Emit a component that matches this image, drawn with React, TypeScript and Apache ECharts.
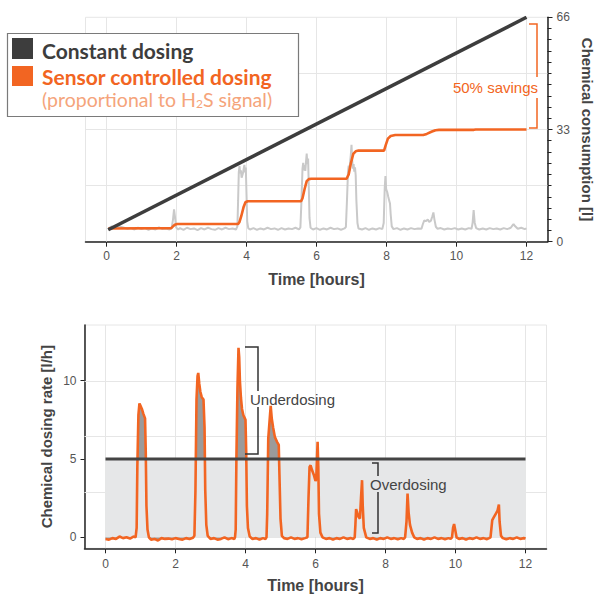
import React, { useEffect, useRef } from "react";
import * as echarts from "echarts";

// ---------- data ----------
const hourTicks = [0, 2, 4, 6, 8, 10, 12];
const rateTicks = [0, 5, 10];
const consumptionGridLines = [16.5, 33, 49.5];
const rateGridLines = [2.865, 6.43, 9.995];

const constantConsumption = [
  [0.05, 3.5],
  [12, 66],
];

const sensorConsumption = [
  [0.05, 3.9], [1.85, 4.0], [1.9, 4.5], [1.95, 5.0], [2.02, 5.2],
  [3.76, 5.2], [3.8, 5.8], [3.85, 7.5], [3.92, 10.3], [3.97, 11.6], [4.03, 11.9],
  [5.56, 11.9], [5.6, 12.8], [5.66, 15.5], [5.72, 17.8], [5.78, 18.4], [5.85, 18.5],
  [6.86, 18.5], [6.92, 19.8], [6.98, 23.0], [7.05, 25.8], [7.12, 26.6], [7.2, 26.8],
  [7.93, 26.8], [7.98, 28.5], [8.04, 30.3], [8.12, 31.1], [8.25, 31.4],
  [9.05, 31.4], [9.15, 31.7], [9.3, 32.4], [9.4, 32.8], [9.5, 32.9],
  [10.5, 32.9], [10.55, 33.0], [12, 33.0],
];

const h2sSignal = [
  [0.05, 3.6], [0.1, 4.2], [0.15, 4.5], [0.2, 4.3], [0.3, 4.7], [0.4, 4.4], [0.5, 4.1],
  [0.6, 3.8], [0.7, 4.0], [0.8, 3.6], [0.9, 4.1], [1.0, 3.7], [1.1, 4.0], [1.2, 3.5],
  [1.3, 3.9], [1.4, 3.6], [1.5, 4.2], [1.6, 3.7], [1.7, 3.9], [1.8, 3.6], [1.86, 4.0],
  [1.9, 6.5], [1.93, 9.5], [1.96, 7.0], [1.99, 4.2], [2.05, 3.6], [2.1, 4.0], [2.2, 3.5],
  [2.3, 4.1], [2.4, 3.7], [2.5, 3.9], [2.6, 3.4], [2.7, 4.0], [2.8, 3.6], [2.9, 4.1],
  [3.0, 3.7], [3.1, 3.5], [3.2, 4.0], [3.3, 3.6], [3.4, 4.1], [3.5, 3.7], [3.6, 3.9],
  [3.7, 3.6], [3.74, 4.5], [3.76, 12], [3.78, 20.5], [3.8, 22.2], [3.82, 20.1],
  [3.84, 21.0], [3.86, 18.8], [3.88, 19.5], [3.9, 20.2], [3.92, 21.5], [3.94, 22.6],
  [3.96, 20.4], [3.98, 21.8], [4.0, 14], [4.02, 6], [4.05, 4.0], [4.1, 3.6], [4.2, 4.0],
  [4.3, 3.5], [4.4, 3.9], [4.5, 3.6], [4.6, 4.1], [4.7, 3.7], [4.8, 3.9], [4.9, 3.5],
  [5.0, 4.0], [5.1, 3.6], [5.2, 3.9], [5.3, 3.7], [5.4, 4.1], [5.5, 3.6],
  [5.54, 4.2], [5.57, 12], [5.6, 21.5], [5.62, 23.2], [5.64, 21.0], [5.66, 22.5],
  [5.68, 20.8], [5.7, 23.5], [5.72, 25.9], [5.74, 22.8], [5.76, 24.5], [5.78, 16],
  [5.8, 7], [5.83, 4.1], [5.9, 3.6], [6.0, 4.0], [6.1, 3.5], [6.2, 3.9], [6.3, 3.6],
  [6.4, 4.1], [6.5, 3.7], [6.6, 3.9], [6.7, 3.5], [6.8, 3.9],
  [6.84, 4.3], [6.87, 12], [6.9, 20.5], [6.92, 22.4], [6.94, 20.8], [6.96, 23.5],
  [6.98, 25.5], [7.0, 28.5], [7.02, 24.0], [7.04, 21.5], [7.06, 22.8], [7.08, 20.6],
  [7.1, 21.9], [7.12, 19.5], [7.14, 12], [7.17, 5.5], [7.2, 3.9],
  [7.3, 3.6], [7.4, 4.0], [7.5, 3.5], [7.6, 3.9], [7.7, 3.6], [7.8, 4.0], [7.88, 3.7],
  [7.92, 5.5], [7.95, 16], [7.97, 19.3], [7.99, 15.5], [8.02, 14.6], [8.05, 13.2],
  [8.08, 12.0], [8.1, 11.2], [8.12, 8], [8.15, 4.5], [8.2, 3.7],
  [8.3, 4.0], [8.4, 3.5], [8.5, 3.9], [8.6, 3.6], [8.7, 4.0], [8.8, 3.7], [8.9, 3.9], [9.0, 3.8],
  [9.04, 5.2], [9.08, 6.3], [9.12, 6.0], [9.18, 6.5], [9.22, 5.8], [9.27, 6.2],
  [9.31, 7.5], [9.34, 8.6], [9.37, 6.5], [9.41, 4.4], [9.46, 3.8],
  [9.55, 4.0], [9.65, 3.6], [9.75, 3.9], [9.85, 3.7], [9.95, 4.0], [10.05, 3.6],
  [10.15, 3.9], [10.25, 3.6], [10.35, 4.0], [10.43, 3.8],
  [10.46, 5.5], [10.49, 9.3], [10.52, 5.6], [10.56, 4.0],
  [10.65, 3.6], [10.75, 3.9], [10.85, 3.6], [10.95, 4.0], [11.05, 3.7], [11.15, 3.9],
  [11.25, 3.6], [11.35, 4.0], [11.45, 3.7], [11.55, 4.1], [11.6, 4.8], [11.63, 5.2],
  [11.67, 4.6], [11.75, 3.8], [11.85, 4.1], [11.95, 3.7], [12.0, 3.9],
];

const constantRate = [
  [0, 5],
  [12, 5],
];

const sensorRate = [
  [0, -0.1], [0.1, -0.15], [0.2, -0.05], [0.3, -0.1], [0.4, 0.05], [0.5, -0.05],
  [0.6, 0.0], [0.7, -0.08], [0.8, 0.05], [0.86, 0.0],
  [0.89, 0.6], [0.91, 4.5], [0.94, 7.8], [0.97, 8.55], [1.0, 8.4], [1.04, 8.2],
  [1.08, 7.9], [1.13, 7.6], [1.15, 5.5], [1.17, 2.0], [1.2, 0.5], [1.24, 0.0],
  [1.3, -0.15], [1.4, -0.1], [1.5, -0.2], [1.6, -0.05], [1.7, -0.1], [1.8, -0.08],
  [1.9, -0.12], [2.0, -0.05], [2.1, -0.1], [2.2, -0.15], [2.3, -0.05], [2.4, -0.1],
  [2.5, -0.02],
  [2.54, 0.1], [2.57, 3.0], [2.6, 8.8], [2.63, 10.3], [2.65, 10.5], [2.68, 9.8],
  [2.71, 9.3], [2.75, 8.95], [2.8, 8.8], [2.83, 7.0], [2.85, 3.0], [2.88, 0.8], [2.92, 0.1],
  [3.0, -0.1], [3.1, -0.05], [3.2, -0.15], [3.3, -0.1], [3.4, 0.0], [3.5, -0.12],
  [3.6, -0.05], [3.68, -0.1],
  [3.7, 0.0], [3.72, 0.5], [3.74, 5.0], [3.77, 9.5], [3.8, 12.1], [3.82, 11.5],
  [3.84, 10.0], [3.87, 8.9], [3.9, 8.2], [3.94, 7.8], [4.0, 7.5], [4.02, 5.5],
  [4.04, 2.0], [4.07, 0.6], [4.12, 0.05],
  [4.2, -0.1], [4.3, -0.05], [4.4, -0.15], [4.5, -0.05], [4.57, -0.1],
  [4.6, 0.0], [4.62, 1.5], [4.65, 6.3], [4.68, 7.2], [4.72, 8.4], [4.75, 7.6],
  [4.79, 7.0], [4.84, 6.4], [4.9, 6.1], [4.95, 5.9], [4.97, 4.0], [5.0, 1.2], [5.04, 0.1],
  [5.1, -0.05], [5.2, -0.1], [5.3, 0.0], [5.4, -0.1], [5.5, -0.05], [5.6, -0.12], [5.7, -0.05],
  [5.77, 0.0], [5.8, 2.5], [5.83, 4.5], [5.86, 4.6], [5.9, 4.3], [5.95, 4.0],
  [6.0, 3.6], [6.02, 3.7], [6.06, 6.1], [6.08, 4.5], [6.1, 1.5], [6.14, 0.3], [6.2, 0.0],
  [6.3, -0.1], [6.4, -0.05], [6.5, -0.15], [6.6, -0.05], [6.7, -0.1], [6.8, 0.0],
  [6.9, -0.1], [7.0, -0.05], [7.08, -0.1],
  [7.12, 0.0], [7.14, 0.8], [7.16, 1.8], [7.19, 1.6], [7.23, 1.3], [7.27, 1.2],
  [7.3, 2.5], [7.33, 3.65], [7.35, 2.0], [7.38, 0.6], [7.45, 0.0],
  [7.55, -0.1], [7.65, -0.05], [7.75, -0.15], [7.85, -0.05], [7.95, -0.1], [8.05, 0.0],
  [8.15, -0.1], [8.25, -0.05], [8.35, -0.12], [8.45, -0.05], [8.52, -0.1],
  [8.56, 0.0], [8.6, 1.0], [8.63, 2.8], [8.66, 1.6], [8.7, 0.8], [8.76, 0.3], [8.82, 0.0],
  [8.9, -0.1], [9.0, -0.05], [9.1, -0.15], [9.2, -0.05], [9.3, -0.1], [9.4, 0.0],
  [9.5, -0.1], [9.6, -0.05], [9.7, -0.12], [9.8, -0.05], [9.86, -0.1],
  [9.9, 0.0], [9.93, 0.6], [9.96, 0.85], [9.99, 0.5], [10.03, 0.0],
  [10.1, -0.1], [10.2, -0.05], [10.3, -0.15], [10.4, -0.05], [10.5, -0.1], [10.6, 0.0],
  [10.7, -0.1], [10.8, -0.05], [10.9, -0.12], [10.96, -0.05],
  [11.0, 0.0], [11.05, 1.1], [11.1, 1.3], [11.15, 1.5], [11.2, 1.7], [11.24, 2.1],
  [11.26, 1.0], [11.3, 0.1],
  [11.35, -0.05], [11.45, -0.12], [11.55, -0.05], [11.65, -0.1], [11.75, 0.0],
  [11.85, -0.1], [11.95, -0.05], [12.0, -0.08],
];

// ---------- styles ----------
const FONT = "'Liberation Sans', Arial, Helvetica, sans-serif";
const LEGEND_FONT = "Lato, 'Open Sans', sans-serif";
const ORANGE = "#f26522";
const DARK = "#3d3d3d";
const GRID_LINE = "#e6e6e6";
const AXIS = "#222";

export default function App() {
  const ref = useRef<HTMLDivElement>(null);

  useEffect(() => {
    if (!ref.current) return;
    const chart = echarts.init(ref.current, undefined, { renderer: "svg" });

    const axisLabel = { color: "#555", fontSize: 12, fontFamily: FONT };
    const nameStyle = { color: "#444", fontSize: 15, fontWeight: "bold", fontFamily: FONT };
    const gridMark = (yVals: number[]) => ({
      silent: true,
      symbol: ["none", "none"],
      z: 1,
      label: { show: false },
      emphasis: { disabled: true },
      lineStyle: { color: GRID_LINE, width: 1, type: "solid" },
      data: [
        ...hourTicks.map((h) => ({ xAxis: h })),
        ...yVals.map((v) => ({ yAxis: v })),
      ],
    });

    const option: any = {
      animation: false,
      grid: [
        { left: 85.5, top: 17.3, width: 462, height: 224.4, show: true, borderColor: GRID_LINE, borderWidth: 1, containLabel: false, outerBoundsMode: "none" },
        { left: 84.5, top: 325, width: 462, height: 223.3, show: true, borderColor: GRID_LINE, borderWidth: 1, containLabel: false, outerBoundsMode: "none" },
      ],
      xAxis: [0, 1].map((g) => ({
        gridIndex: g,
        type: "value",
        min: -0.6,
        max: 12.6,
        splitLine: { show: false },
        axisLine: { show: true, onZero: false, lineStyle: { color: AXIS, width: 1.5 } },
        axisTick: { show: true, customValues: hourTicks, length: 5, lineStyle: { color: AXIS } },
        axisLabel: { ...axisLabel, customValues: hourTicks, margin: g === 0 ? 8 : 10 },
        name: "Time [hours]",
        nameLocation: "middle",
        nameGap: g === 0 ? 30 : 29,
        nameMoveOverlap: false,
        nameTextStyle: { ...nameStyle, fontSize: 16 },
      })),
      yAxis: [
        {
          gridIndex: 0,
          type: "value",
          position: "right",
          min: 0,
          max: 66,
          interval: 33,
          splitLine: { show: false },
          axisLine: { show: true, onZero: false, lineStyle: { color: AXIS, width: 1.5 } },
          axisTick: { show: true, length: 5, lineStyle: { color: AXIS } },
          minorTick: { show: true, splitNumber: 10, length: 4, lineStyle: { color: AXIS } },
          minorSplitLine: { show: false },
          axisLabel: { ...axisLabel, margin: 9 },
          name: "Chemical consumption [l]",
          nameLocation: "middle",
          nameRotate: -90,
          nameGap: 32,
          nameMoveOverlap: false,
          nameTextStyle: nameStyle,
        },
        {
          gridIndex: 1,
          type: "value",
          min: -0.7,
          max: 13.56,
          splitLine: { show: false },
          axisLine: { show: true, onZero: false, lineStyle: { color: AXIS, width: 1.5 } },
          axisTick: { show: true, customValues: rateTicks, length: 4, lineStyle: { color: AXIS } },
          axisLabel: { ...axisLabel, customValues: rateTicks, margin: 8 },
          name: "Chemical dosing rate [l/h]",
          nameLocation: "middle",
          nameRotate: 90,
          nameGap: 31,
          nameMoveOverlap: false,
          nameTextStyle: nameStyle,
        },
      ],
      series: [
        {
          name: "H2S signal",
          type: "line",
          xAxisIndex: 0,
          yAxisIndex: 0,
          data: h2sSignal,
          showSymbol: false,
          symbol: "none",
          lineStyle: { color: "#c9c9c9", width: 2 },
          z: 2,
          markLine: gridMark(consumptionGridLines),
        },
        {
          name: "Sensor consumption",
          type: "line",
          xAxisIndex: 0,
          yAxisIndex: 0,
          data: sensorConsumption,
          showSymbol: false,
          symbol: "none",
          lineStyle: { color: ORANGE, width: 2.6 },
          z: 3,
        },
        {
          name: "Constant consumption",
          type: "line",
          xAxisIndex: 0,
          yAxisIndex: 0,
          data: constantConsumption,
          showSymbol: false,
          symbol: "none",
          lineStyle: { color: DARK, width: 3.5 },
          z: 4,
        },
        {
          name: "Rate area",
          type: "line",
          xAxisIndex: 1,
          yAxisIndex: 1,
          data: sensorRate,
          showSymbol: false,
          symbol: "none",
          lineStyle: { width: 0, opacity: 0 },
          areaStyle: { color: "#9b9b9b", opacity: 1, origin: 0 },
          z: 2,
          markLine: gridMark(rateGridLines),
        },
        {
          name: "Constant area",
          type: "line",
          xAxisIndex: 1,
          yAxisIndex: 1,
          data: constantRate,
          showSymbol: false,
          symbol: "none",
          lineStyle: { width: 0, opacity: 0 },
          areaStyle: { color: "#e6e7e8", opacity: 1, origin: 0 },
          z: 2,
        },
        {
          name: "Sensor rate",
          type: "line",
          xAxisIndex: 1,
          yAxisIndex: 1,
          data: sensorRate,
          showSymbol: false,
          symbol: "none",
          lineStyle: { color: ORANGE, width: 2.6 },
          z: 3,
        },
        {
          name: "Constant rate",
          type: "line",
          xAxisIndex: 1,
          yAxisIndex: 1,
          data: constantRate,
          showSymbol: false,
          symbol: "none",
          lineStyle: { color: "#444", width: 3 },
          z: 4,
        },
      ],
      graphic: [
        // legend box
        { type: "rect", z: 100, shape: { x: 7.5, y: 33.5, width: 291, height: 83 }, style: { fill: "#fff", stroke: "#7a7a7a", lineWidth: 1.2 } },
        { type: "rect", z: 101, shape: { x: 12, y: 38, width: 21, height: 21 }, style: { fill: DARK } },
        { type: "rect", z: 101, shape: { x: 12, y: 66, width: 21, height: 20 }, style: { fill: ORANGE } },
        { type: "text", z: 101, x: 42, y: 50, style: { text: "Constant dosing", fill: DARK, font: `bold 21px ${LEGEND_FONT}`, verticalAlign: "middle" } },
        { type: "text", z: 101, x: 42, y: 76, style: { text: "Sensor controlled dosing", fill: ORANGE, font: `bold 21px ${LEGEND_FONT}`, verticalAlign: "middle" } },
        {
          type: "text", z: 101, x: 42, y: 99,
          style: {
            text: "(proportional to H{sub|2}S signal)",
            fill: "#f5a47b",
            font: `19.5px ${LEGEND_FONT}`,
            verticalAlign: "middle",
            rich: { sub: { fontSize: 12, fontFamily: LEGEND_FONT, fill: "#f5a47b", verticalAlign: "bottom", padding: [8, 0, 0, 0] } },
          },
        },
        // 50% savings bracket
        { type: "polyline", z: 50, shape: { points: [[529, 24], [537, 24], [537, 77]] }, style: { stroke: ORANGE, lineWidth: 1.5, fill: "none" } },
        { type: "polyline", z: 50, shape: { points: [[537, 98], [537, 128], [529, 128]] }, style: { stroke: ORANGE, lineWidth: 1.5, fill: "none" } },
        { type: "text", z: 50, x: 538, y: 87, style: { text: "50% savings", fill: ORANGE, font: `15px ${FONT}`, align: "right", verticalAlign: "middle" } },
        // underdosing bracket
        { type: "polyline", z: 50, shape: { points: [[245, 347], [258, 347], [258, 391]] }, style: { stroke: "#333", lineWidth: 1.5, fill: "none" } },
        { type: "polyline", z: 50, shape: { points: [[258, 407], [258, 454], [245, 454]] }, style: { stroke: "#333", lineWidth: 1.5, fill: "none" } },
        { type: "text", z: 50, x: 250, y: 399, style: { text: "Underdosing", fill: "#444", font: `15px ${FONT}`, verticalAlign: "middle" } },
        // overdosing bracket
        { type: "polyline", z: 50, shape: { points: [[372, 463], [378, 463], [378, 476]] }, style: { stroke: "#333", lineWidth: 1.5, fill: "none" } },
        { type: "polyline", z: 50, shape: { points: [[378, 492], [378, 533], [372, 533]] }, style: { stroke: "#333", lineWidth: 1.5, fill: "none" } },
        { type: "text", z: 50, x: 370, y: 484, style: { text: "Overdosing", fill: "#444", font: `15px ${FONT}`, verticalAlign: "middle" } },
      ],
    };

    chart.setOption(option);
    return () => chart.dispose();
  }, []);

  return (
    <div
      ref={ref}
      style={{ position: "absolute", left: 0, top: 0, width: 595, height: 594, background: "#fff" }}
    />
  );
}
